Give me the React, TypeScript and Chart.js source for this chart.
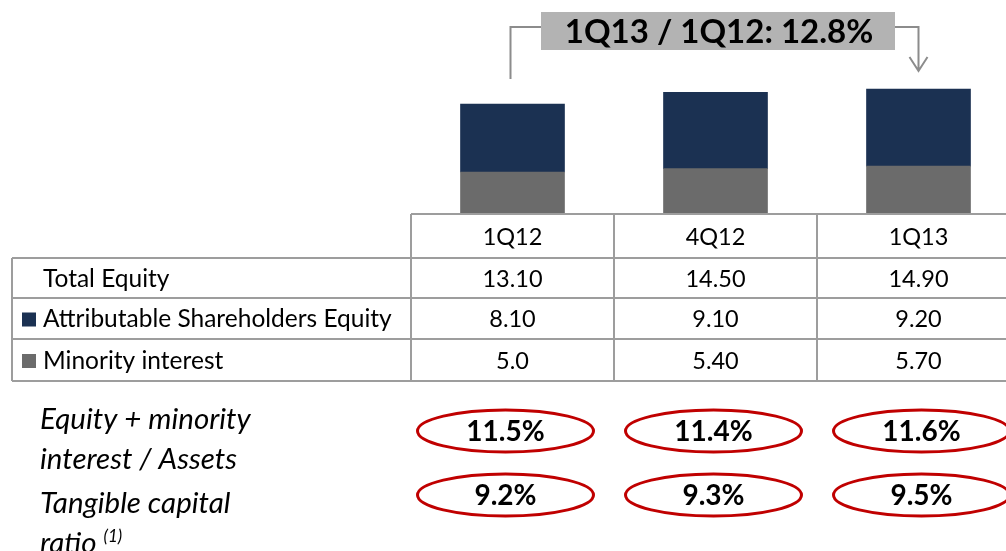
import React, { useEffect, useRef } from "react";
import { Chart, registerables } from "chart.js";

Chart.register(...registerables);

const categories = ["1Q12", "4Q12", "1Q13"];
const totalEquity = [13.1, 14.5, 14.9];
const attributableEquity = [8.1, 9.1, 9.2];
const minorityInterest = [5.0, 5.4, 5.7];
const totalEquityLabels = ["13.10", "14.50", "14.90"];
const attributableLabels = ["8.10", "9.10", "9.20"];
const minorityLabels = ["5.0", "5.40", "5.70"];
const equityAssetsRatio = ["11.5%", "11.4%", "11.6%"];
const tangibleCapitalRatio = ["9.2%", "9.3%", "9.5%"];
const growthLabel = "1Q13 / 1Q12: 12.8%";

const NAVY = "#1b3152";
const GRAY = "#6b6b6b";
const GRID = "#9d9d9d";
const FONT = "Lato, 'Open Sans', sans-serif";

const overlayPlugin = {
  id: "overlay",
  afterDraw(chart: any) {
    const ctx = chart.ctx as CanvasRenderingContext2D;
    const x = chart.scales.x;
    const centers = categories.map((_, i) => x.getPixelForValue(i));
    const step = centers[1] - centers[0];
    const tableLeft = centers[0] - step / 2;
    const right = chart.width;
    const rowLines = [214, 258, 298, 339, 381];
    ctx.save();
    // table grid
    ctx.strokeStyle = GRID;
    ctx.lineWidth = 2;
    ctx.beginPath();
    ctx.moveTo(tableLeft, rowLines[0]);
    ctx.lineTo(right, rowLines[0]);
    for (let r = 1; r < rowLines.length; r++) {
      ctx.moveTo(12, rowLines[r]);
      ctx.lineTo(right, rowLines[r]);
    }
    ctx.moveTo(12, rowLines[1]);
    ctx.lineTo(12, rowLines[4]);
    for (let i = 0; i <= categories.length; i++) {
      const bx = tableLeft + i * step;
      ctx.moveTo(bx, rowLines[0]);
      ctx.lineTo(bx, rowLines[4]);
    }
    ctx.stroke();

    // table text
    ctx.fillStyle = "#000";
    ctx.font = `23.5px ${FONT}`;
    ctx.textBaseline = "middle";
    ctx.textAlign = "center";
    const rowMid = (r: number) => (rowLines[r] + rowLines[r + 1]) / 2 + 1;
    const rows = [categories, totalEquityLabels, attributableLabels, minorityLabels];
    rows.forEach((vals, r) => {
      vals.forEach((v, i) => ctx.fillText(v, centers[i], rowMid(r)));
    });
    ctx.textAlign = "left";
    ctx.font = `24.5px ${FONT}`;
    ctx.fillText("Total Equity", 43, rowMid(1));
    ctx.fillText("Attributable Shareholders Equity", 43, rowMid(2));
    ctx.fillText("Minority interest", 43, rowMid(3));
    ctx.fillStyle = NAVY;
    ctx.fillRect(22, rowMid(2) - 7, 14, 14);
    ctx.fillStyle = GRAY;
    ctx.fillRect(22, rowMid(3) - 7, 14, 14);

    // ratio labels
    ctx.fillStyle = "#000";
    ctx.font = `italic 29.5px ${FONT}`;
    ctx.textBaseline = "alphabetic";
    ctx.fillText("Equity + minority", 40, 429);
    ctx.fillText("interest / Assets", 40, 469);
    ctx.fillText("Tangible capital", 40, 513);
    ctx.fillText("ratio", 40, 553);
    const rw = ctx.measureText("ratio ").width;
    ctx.font = `italic 17px ${FONT}`;
    ctx.fillText("(1)", 40 + rw, 542);

    // ellipses
    const drawRow = (vals: string[], cy: number) => {
      vals.forEach((v, i) => {
        const cx = centers[1] - 2 + (i - 1) * 208;
        ctx.beginPath();
        ctx.ellipse(cx, cy, 88, 21, 0, 0, Math.PI * 2);
        ctx.strokeStyle = "#c00000";
        ctx.lineWidth = 3;
        ctx.stroke();
        ctx.fillStyle = "#000";
        ctx.font = `bold 28px ${FONT}`;
        ctx.textAlign = "center";
        ctx.textBaseline = "middle";
        ctx.fillText(v, cx, cy + 1);
      });
    };
    drawRow(equityAssetsRatio, 431);
    drawRow(tangibleCapitalRatio, 495);

    // growth annotation
    const x0 = centers[0] - 2;
    const x2 = centers[2];
    ctx.strokeStyle = "#8c8c8c";
    ctx.lineWidth = 2;
    ctx.beginPath();
    ctx.moveTo(x0, 79);
    ctx.lineTo(x0, 27);
    ctx.lineTo(545, 27);
    ctx.moveTo(890, 27);
    ctx.lineTo(x2, 27);
    ctx.lineTo(x2, 70);
    ctx.moveTo(x2 - 9, 57);
    ctx.lineTo(x2, 71);
    ctx.lineTo(x2 + 9, 57);
    ctx.stroke();
    ctx.fillStyle = "#b3b3b3";
    ctx.fillRect(541, 12, 354, 38);
    ctx.fillStyle = "#000";
    ctx.font = `bold 33px ${FONT}`;
    ctx.textAlign = "center";
    ctx.textBaseline = "middle";
    ctx.fillText(growthLabel, 719, 32);
    ctx.restore();
  },
};

export default function App() {
  const ref = useRef<HTMLCanvasElement>(null);
  useEffect(() => {
    if (!ref.current) return;
    const chart = new Chart(ref.current, {
      type: "bar",
      data: {
        labels: categories,
        datasets: [
          {
            label: "Minority interest",
            data: minorityInterest,
            backgroundColor: GRAY,
            barThickness: 104,
          },
          {
            label: "Attributable Shareholders Equity",
            data: attributableEquity,
            backgroundColor: NAVY,
            barThickness: 104,
          },
        ],
      },
      options: {
        animation: false,
        responsive: false,
        devicePixelRatio: 1,
        layout: { padding: { left: 411, right: 10, top: 0, bottom: 337 } },
        plugins: { legend: { display: false }, tooltip: { enabled: false } },
        scales: {
          x: { stacked: true, display: false, offset: true },
          y: { stacked: true, display: false, min: 0, max: 25.5 },
        },
      },
      plugins: [overlayPlugin],
    });
    return () => chart.destroy();
  }, []);
  return (
    <div
      style={{
        position: "fixed",
        left: 0,
        top: 0,
        width: 1006,
        height: 551,
        overflow: "hidden",
        background: "#fff",
      }}
    >
      <canvas ref={ref} width={1030} height={551} style={{ display: "block" }} />
    </div>
  );
}
